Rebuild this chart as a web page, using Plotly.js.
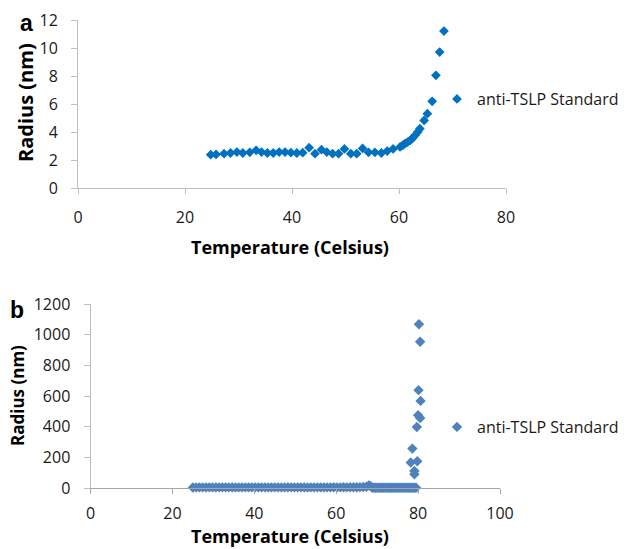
<!DOCTYPE html>
<html>
<head>
<meta charset="utf-8">
<script src="https://cdn.plot.ly/plotly-3.0.1.min.js"></script>
<style>html,body{margin:0;padding:0;background:#fff;}#chart{width:627px;height:549px;}</style>
</head>
<body>
<div id="chart"></div>
<script>
// Panel a: temperature (Celsius) vs radius (nm)
var tempA = [24.8,25.8,27.3,28.5,29.7,30.8,32.1,33.3,34.3,35.4,36.5,37.6,38.7,39.8,40.9,42.0,43.2,44.3,45.5,46.5,47.6,48.7,49.8,51.0,52.1,53.2,54.3,55.5,56.7,57.8,58.9,60.2,60.7,61.1,61.6,62.1,62.5,63.0,63.5,63.9,64.7,65.3,66.2,66.9,67.6,68.4];
var radA  = [2.38,2.40,2.45,2.50,2.57,2.50,2.55,2.69,2.57,2.50,2.50,2.57,2.57,2.52,2.50,2.52,2.88,2.45,2.74,2.57,2.45,2.45,2.79,2.45,2.45,2.83,2.55,2.55,2.50,2.64,2.79,2.93,3.05,3.17,3.28,3.40,3.55,3.76,4.00,4.24,4.83,5.31,6.19,8.05,9.71,11.21];

// Panel b: temperature (Celsius) vs radius (nm)
var tempB = [25.0,25.8,26.6,27.4,28.2,29.0,29.8,30.6,31.4,32.2,33.0,33.8,34.6,35.4,36.2,37.0,37.8,38.6,39.4,40.2,41.0,41.8,42.6,43.4,44.2,45.0,45.8,46.6,47.4,48.2,49.0,49.8,50.6,51.4,52.2,53.0,53.8,54.6,55.4,56.2,57.0,57.8,58.6,59.4,60.2,61.0,61.8,62.6,63.4,64.2,65.0,65.8,66.6,67.4,68.0,68.4,
             68.8,69.2,69.6,70.0,70.4,70.8,71.2,71.6,72.0,72.4,72.8,73.2,73.6,74.0,74.4,74.8,75.2,75.6,76.0,76.4,76.8,77.2,77.6,78.0,78.4,78.8,79.2,79.5,
             78.2,78.6,79.1,79.1,79.8,79.7,80.0,80.5,80.1,80.6,80.5,80.2];
var radB  = [3.5,4.0,3.8,4.2,3.9,4.1,4.3,3.9,4.0,4.4,4.1,3.8,4.2,4.0,4.3,3.9,4.1,4.0,4.2,4.4,3.9,4.1,4.3,4.0,3.8,4.2,4.1,4.0,4.4,3.9,4.2,4.0,4.1,4.3,3.9,4.0,4.2,4.4,4.1,3.9,4.2,4.0,4.3,4.5,4.1,4.4,4.6,4.3,4.8,5.0,5.2,5.6,6.5,8.0,17.0,12.0,
             1.8,1.5,1.6,1.4,1.7,1.5,1.3,1.6,1.4,1.5,1.7,1.3,1.5,1.6,1.4,1.2,1.5,1.6,1.3,1.5,1.4,1.6,1.3,1.5,1.4,1.7,1.5,1.6,
             166,257,111,89,174,398,475,457,638,568,954,1068];

var xTicksA = [0,20,40,60,80];
var yTicksA = [0,2,4,6,8,10,12];
var xTicksB = [0,20,40,60,80,100];
var yTicksB = [0,200,400,600,800,1000,1200];
var seriesName = 'anti-TSLP Standard';

var W = 627, H = 549;
function px(x){ return x / W; }
function py(y){ return 1 - y / H; }

var tickFont = {family: 'Open Sans, sans-serif', size: 16, color: '#1a1a1a'};
var titleFont = {family: 'Open Sans, sans-serif', size: 18, color: '#000', weight: 'bold'};

var traces = [
  {x: tempA, y: radA, xaxis: 'x', yaxis: 'y', type: 'scatter', mode: 'markers', name: seriesName,
   legend: 'legend', cliponaxis: false,
   marker: {symbol: 'diamond', size: 7.5, color: '#0070C0'}},
  {x: tempB, y: radB, xaxis: 'x2', yaxis: 'y2', type: 'scatter', mode: 'markers', name: seriesName,
   legend: 'legend2', cliponaxis: false,
   marker: {symbol: 'diamond', size: 8, color: '#4F81BD'}}
];

var axisCommon = {showgrid: false, zeroline: false, showline: true, linecolor: '#BFBFBF', linewidth: 1,
  ticks: 'outside', tickcolor: '#BFBFBF', tickwidth: 1, tickfont: tickFont, fixedrange: true};

var layout = {
  width: W, height: H,
  margin: {l: 0, r: 0, t: 0, b: 0},
  paper_bgcolor: '#fff', plot_bgcolor: '#fff',
  showlegend: true,
  xaxis: Object.assign({}, axisCommon, {domain: [px(78), px(506)], range: [0, 80], tickvals: xTicksA,
    anchor: 'y', ticklen: 5, ticklabelstandoff: 10}),
  yaxis: Object.assign({}, axisCommon, {domain: [py(188), py(20)], range: [0, 12], tickvals: yTicksA,
    anchor: 'x', ticklen: 6, ticklabelstandoff: 10}),
  xaxis2: Object.assign({}, axisCommon, {domain: [px(90.5), px(500)], range: [0, 100], tickvals: xTicksB,
    anchor: 'y2', ticklen: 5, ticklabelstandoff: 6, linecolor: '#A6A6A6', tickcolor: '#A6A6A6'}),
  yaxis2: Object.assign({}, axisCommon, {domain: [py(488), py(304)], range: [0, 1200], tickvals: yTicksB,
    anchor: 'x2', ticklen: 6, ticklabelstandoff: 10}),
  legend: {x: px(437), xanchor: 'left', y: py(99), yanchor: 'middle', bgcolor: 'rgba(0,0,0,0)',
    font: {family: 'Open Sans, sans-serif', size: 16, color: '#1a1a1a'}},
  legend2: {x: px(437), xanchor: 'left', y: py(427), yanchor: 'middle', bgcolor: 'rgba(0,0,0,0)',
    font: {family: 'Open Sans, sans-serif', size: 16, color: '#1a1a1a'}},
  annotations: [
    {text: 'a', xref: 'paper', yref: 'paper', x: px(26), y: py(23), xanchor: 'center', yanchor: 'middle',
     showarrow: false, font: {family: 'Liberation Sans, Arial, sans-serif', size: 23, color: '#000', weight: 'bold'}},
    {text: 'b', xref: 'paper', yref: 'paper', x: px(17), y: py(310), xanchor: 'center', yanchor: 'middle',
     showarrow: false, font: {family: 'Liberation Sans, Arial, sans-serif', size: 23, color: '#000', weight: 'bold'}},
    {text: 'Radius (nm)', xref: 'paper', yref: 'paper', x: px(25), y: py(103), xanchor: 'center', yanchor: 'middle',
     textangle: -90, showarrow: false, font: {family: 'Open Sans, sans-serif', size: 20, color: '#000', weight: 'bold'}},
    {text: 'Temperature (Celsius)', xref: 'paper', yref: 'paper', x: px(290), y: py(247), xanchor: 'center', yanchor: 'middle',
     showarrow: false, font: titleFont},
    {text: 'Radius (nm)', xref: 'paper', yref: 'paper', x: px(17), y: py(396), xanchor: 'center', yanchor: 'middle',
     textangle: -90, showarrow: false, font: {family: 'Open Sans, sans-serif', size: 17, color: '#000', weight: 'bold'}},
    {text: 'Temperature (Celsius)', xref: 'paper', yref: 'paper', x: px(290), y: py(536), xanchor: 'center', yanchor: 'middle',
     showarrow: false, font: titleFont}
  ]
};

Plotly.newPlot('chart', traces, layout, {displayModeBar: false, staticPlot: true});
</script>
</body>
</html>
